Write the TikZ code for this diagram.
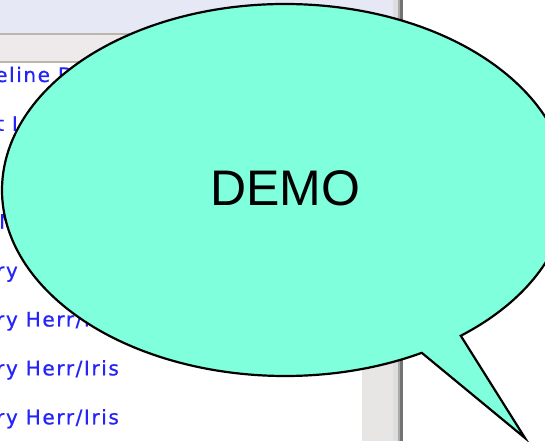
\documentclass[tikz,border=0pt]{standalone}
\usepackage{fontspec}
\setmainfont{Liberation Sans}
\newfontfamily\listfont{DejaVu Sans}[LetterSpace=8,FakeBold=0.8]
\definecolor{topband}{RGB}{230,233,245}
\definecolor{sepline}{RGB}{186,182,174}
\definecolor{subband}{RGB}{238,234,236}
\definecolor{scrolltrack}{RGB}{232,230,228}
\definecolor{edgelight}{RGB}{222,222,222}
\definecolor{edgemid}{RGB}{170,170,170}
\definecolor{edgedark}{RGB}{115,115,115}
\definecolor{bubble}{RGB}{127,255,220}
\definecolor{listblue}{RGB}{36,36,250}
\tikzset{
  listtxt/.style={anchor=base west, inner sep=0pt, text=listblue, font=\listfont\fontsize{20}{23}\selectfont},
  callout/.style={fill=bubble, draw=black, line width=2.2pt, line join=miter},
  demotxt/.style={inner sep=0pt, font=\fontsize{50}{60}\selectfont}
}
\begin{document}
\begin{tikzpicture}[x=1pt,y=1pt]
\useasboundingbox (0,0) rectangle (545,441);
\clip (0,0) rectangle (545,441);
% background window
\fill[white] (0,0) rectangle (545,441);
\fill[topband] (0,408) rectangle (393,441);
\fill[sepline] (0,406) rectangle (393,408);
\fill[subband] (0,380) rectangle (393,406);
\fill[sepline] (0,378) rectangle (393,380);
\fill[scrolltrack] (362,0) rectangle (393,378);
\fill[edgelight] (393,0) rectangle (398,441);
\fill[edgemid] (398,0) rectangle (400,441);
\fill[edgedark] (400,0) rectangle (403,441);
% list texts
\node[listtxt] (r1) at (-5,359) {eline D};
\node[listtxt] (r2) at (-4,310.1) {t I};
\node[listtxt] (r4) at (-1,212.3) {M};
\node[listtxt] (r5) at (-4,163.4) {ry};
\node[listtxt] (r6) at (-4,114.5) {ry Herr/Iris};
\node[listtxt] (r7) at (-4,65.6) {ry Herr/Iris};
\node[listtxt] (r8) at (-4,16.7) {ry Herr/Iris};
% callout bubble
\coordinate (c) at (285,251);
\coordinate (tip) at (525,3);
\draw[callout] (c) ++(-51.6:283 and 186)
  arc[start angle=-51.6, end angle=298.9, x radius=283, y radius=186]
  -- (tip) -- cycle;
\node[demotxt] (demo) at (285,253) {DEMO};
\end{tikzpicture}
\end{document}
